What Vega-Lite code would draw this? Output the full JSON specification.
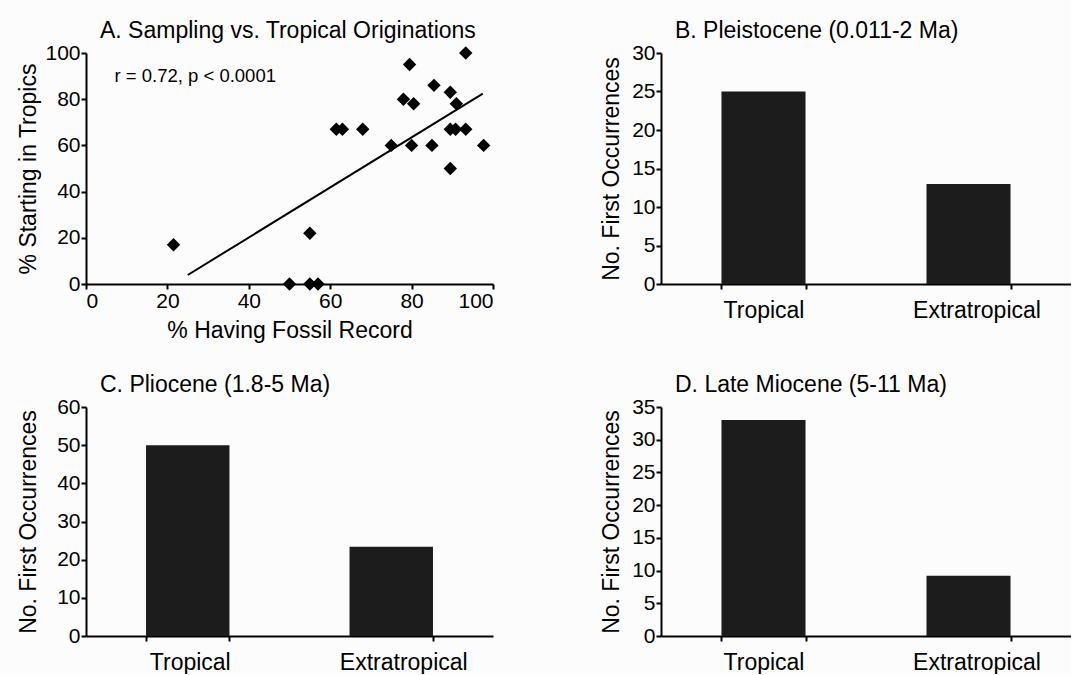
{
  "$schema": "https://vega.github.io/schema/vega-lite/v6.json",
  "background": "#fcfcfc",
  "autosize": {"type": "pad"},
  "padding": {"left": 17, "top": 20, "right": 0, "bottom": 0},
  "spacing": 32,
  "config": {
    "font": "Liberation Sans",
    "view": {"stroke": null},
    "axis": {
      "domainColor": "black", "domainWidth": 2,
      "tickColor": "black", "tickWidth": 2, "tickSize": 5,
      "labelColor": "black", "labelFontSize": 21, "labelFont": "Liberation Sans",
      "titleColor": "black", "titleFontSize": 23, "titleFontWeight": "normal", "titleFont": "Liberation Sans",
      "grid": false
    },
    "axisY": {"titlePadding": 4, "labelPadding": 1},
    "title": {"fontSize": 23, "fontWeight": "normal", "anchor": "start", "frame": "group", "color": "black", "dx": 14, "offset": -1, "font": "Liberation Sans"}
  },
  "datasets": {
    "scatter": [
      {"fossil": 21.5, "tropics": 17},
      {"fossil": 50, "tropics": 0},
      {"fossil": 55, "tropics": 0},
      {"fossil": 57, "tropics": 0},
      {"fossil": 55, "tropics": 22},
      {"fossil": 61.5, "tropics": 67},
      {"fossil": 63, "tropics": 67},
      {"fossil": 68, "tropics": 67},
      {"fossil": 75, "tropics": 60},
      {"fossil": 78, "tropics": 80},
      {"fossil": 79.5, "tropics": 95},
      {"fossil": 80.5, "tropics": 78},
      {"fossil": 80, "tropics": 60},
      {"fossil": 85, "tropics": 60},
      {"fossil": 85.5, "tropics": 86},
      {"fossil": 89.5, "tropics": 83},
      {"fossil": 89.5, "tropics": 50},
      {"fossil": 89.5, "tropics": 67},
      {"fossil": 90.8, "tropics": 67},
      {"fossil": 91, "tropics": 78},
      {"fossil": 93.3, "tropics": 67},
      {"fossil": 93.3, "tropics": 100},
      {"fossil": 97.7, "tropics": 60}
    ],
    "fit": [
      {"fossil": 25, "tropics": 3.9},
      {"fossil": 97.5, "tropics": 82.4}
    ],
    "note": [
      {"fossil": 7, "tropics": 90, "label": "r = 0.72, p < 0.0001"}
    ],
    "bars": [
      {"panel": "B", "region": "Tropical", "n": 25},
      {"panel": "B", "region": "Extratropical", "n": 13},
      {"panel": "C", "region": "Tropical", "n": 50},
      {"panel": "C", "region": "Extratropical", "n": 23.4},
      {"panel": "D", "region": "Tropical", "n": 33},
      {"panel": "D", "region": "Extratropical", "n": 9.2}
    ]
  },
  "vconcat": [
    {
      "hconcat": [
        {
          "title": "A. Sampling vs. Tropical Originations",
          "width": 407, "height": 231,
          "layer": [
            {
              "data": {"name": "scatter"},
              "mark": {"type": "point", "shape": "diamond", "filled": true, "size": 180, "color": "black", "opacity": 1},
              "encoding": {
                "x": {"field": "fossil", "type": "quantitative", "scale": {"domain": [0, 100], "nice": false},
                      "axis": {"title": "% Having Fossil Record", "values": [0, 20, 40, 60, 80, 100], "labelPadding": 1, "titlePadding": 8}},
                "y": {"field": "tropics", "type": "quantitative", "scale": {"domain": [0, 100], "nice": false},
                      "axis": {"title": "% Starting in Tropics", "values": [0, 20, 40, 60, 80, 100]}}
              }
            },
            {
              "data": {"name": "fit"},
              "mark": {"type": "line", "color": "black", "strokeWidth": 2},
              "encoding": {
                "x": {"field": "fossil", "type": "quantitative"},
                "y": {"field": "tropics", "type": "quantitative"}
              }
            },
            {
              "data": {"name": "note"},
              "mark": {"type": "text", "align": "left", "baseline": "middle", "fontSize": 18.5, "color": "black"},
              "encoding": {
                "x": {"field": "fossil", "type": "quantitative"},
                "y": {"field": "tropics", "type": "quantitative"},
                "text": {"field": "label"}
              }
            }
          ]
        },
        {
          "title": "B. Pleistocene (0.011-2 Ma)",
          "width": 410, "height": 231,
          "data": {"name": "bars"},
          "transform": [{"filter": "datum.panel == 'B'"}],
          "mark": {"type": "bar", "color": "#1c1c1c"},
          "encoding": {
            "x": {"field": "region", "type": "nominal", "sort": ["Tropical", "Extratropical"],
                  "scale": {"paddingInner": 0.59, "paddingOuter": 0.295},
                  "axis": {"title": null, "labelAngle": 0, "tickBand": "extent", "labelFontSize": 23, "labelPadding": 10,
                           "labelOffset": {"condition": {"test": "datum.value == 'Extratropical'", "value": 8}, "value": 0}}},
            "y": {"field": "n", "type": "quantitative", "scale": {"domain": [0, 30], "nice": false},
                  "axis": {"title": "No. First Occurrences", "values": [0, 5, 10, 15, 20, 25, 30], "titlePadding": 8}}
          }
        }
      ],
      "spacing": 168,
      "bounds": "flush"
    },
    {
      "hconcat": [
        {
          "title": "C. Pliocene (1.8-5 Ma)",
          "width": 407, "height": 229,
          "data": {"name": "bars"},
          "transform": [{"filter": "datum.panel == 'C'"}],
          "mark": {"type": "bar", "color": "#1c1c1c"},
          "encoding": {
            "x": {"field": "region", "type": "nominal", "sort": ["Tropical", "Extratropical"],
                  "scale": {"paddingInner": 0.59, "paddingOuter": 0.295},
                  "axis": {"title": null, "labelAngle": 0, "tickBand": "extent", "labelFontSize": 23, "labelPadding": 10,
                           "labelOffset": {"condition": {"test": "datum.value == 'Extratropical'", "value": 12}, "value": 2}}},
            "y": {"field": "n", "type": "quantitative", "scale": {"domain": [0, 60], "nice": false},
                  "axis": {"title": "No. First Occurrences", "values": [0, 10, 20, 30, 40, 50, 60], "titlePadding": 16}}
          }
        },
        {
          "title": "D. Late Miocene (5-11 Ma)",
          "width": 410, "height": 229,
          "data": {"name": "bars"},
          "transform": [{"filter": "datum.panel == 'D'"}],
          "mark": {"type": "bar", "color": "#1c1c1c"},
          "encoding": {
            "x": {"field": "region", "type": "nominal", "sort": ["Tropical", "Extratropical"],
                  "scale": {"paddingInner": 0.59, "paddingOuter": 0.295},
                  "axis": {"title": null, "labelAngle": 0, "tickBand": "extent", "labelFontSize": 23, "labelPadding": 10,
                           "labelOffset": {"condition": {"test": "datum.value == 'Extratropical'", "value": 8}, "value": 0}}},
            "y": {"field": "n", "type": "quantitative", "scale": {"domain": [0, 35], "nice": false},
                  "axis": {"title": "No. First Occurrences", "values": [0, 5, 10, 15, 20, 25, 30, 35], "titlePadding": 8}}
          }
        }
      ],
      "spacing": 168,
      "bounds": "flush"
    }
  ]
}
